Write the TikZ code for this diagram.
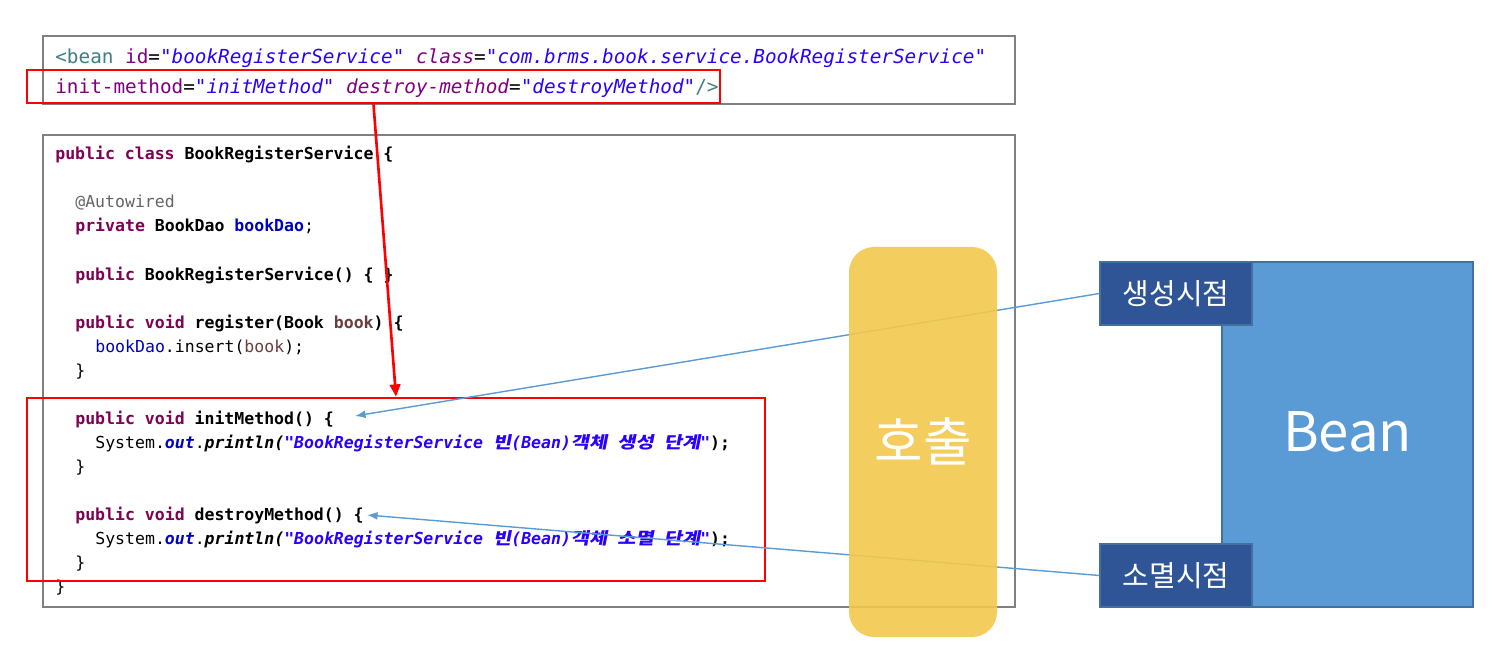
\documentclass[tikz,border=0pt]{standalone}
\usepackage{fontspec}
\usetikzlibrary{arrows.meta,fit}
\newfontfamily\codefont[BoldFont={DejaVu Sans Mono Bold},ItalicFont={DejaVu Sans Mono Oblique},BoldItalicFont={DejaVu Sans Mono Bold Oblique}]{DejaVu Sans Mono}
\newfontfamily\krcode[FakeSlant=0.2,FakeStretch=1.2]{Noto Sans CJK KR}
\newfontfamily\krfont{Noto Sans CJK KR}
\definecolor{keyword}{HTML}{7F0055}
\definecolor{xmltag}{HTML}{3F7F7F}
\definecolor{xmlattr}{HTML}{7F007F}
\definecolor{strblue}{HTML}{2A00FF}
\definecolor{fieldblue}{HTML}{0000C0}
\definecolor{annogray}{HTML}{646464}
\definecolor{parambrown}{HTML}{6A3E3E}
\definecolor{callyellow}{HTML}{F2C94C}
\definecolor{beanblue}{HTML}{5B9BD5}
\definecolor{beanedge}{HTML}{41719C}
\definecolor{pointblue}{HTML}{2F5597}
\def\kw#1{\textcolor{keyword}{\bfseries #1}}
\def\jstr#1{\textcolor{strblue}{\bfseries\itshape #1}}
\def\fld#1{\textcolor{fieldblue}{#1}}
\def\xtag#1{\textcolor{xmltag}{#1}}
\def\xattr#1{\textcolor{xmlattr}{#1}}
\def\xval#1{\textcolor{strblue}{\itshape #1}}
\tikzset{
  codeframe/.style={draw=black!50, line width=0.6pt, inner sep=0pt},
  markbox/.style={draw=red, line width=1.5pt, inner sep=0pt},
  codeline/.style={anchor=base west, inner sep=0pt, font=\codefont\fontsize{9.4}{11}\selectfont},
  xmlline/.style={anchor=base west, inner sep=0pt, font=\codefont\fontsize{11}{13}\selectfont},
  callbar/.style={fill=callyellow, fill opacity=0.9, rounded corners=0.5cm, inner sep=0pt},
  beanbox/.style={fill=beanblue, draw=beanedge, line width=0.8pt, inner sep=0pt},
  pointbox/.style={fill=pointblue, draw=beanedge, line width=0.6pt, inner sep=0pt},
  boxword/.style={anchor=base, inner sep=0pt, text=white, font=\krfont\fontsize{#1}{#1}\selectfont},
  callarrow/.style={red, line width=1.5pt, -{Triangle[length=7pt,width=6pt]}},
  hookline/.style={beanblue, line width=0.8pt, -{Latex[length=6pt,width=4.5pt]}}
}
\begin{document}
\begin{tikzpicture}[x=0.02cm,y=-0.02cm]
  %%%%% START %%%%%
  \useasboundingbox (0,0) rectangle (1503,665);

  % xml bean definition
  \node[codeframe, fit={(43,36) (1015,104)}] (xmlframe) {};
  \node[xmlline] (beanline) at (55,64) {\xtag{<bean} \xattr{id}=\xval{"bookRegisterService"} \xattr{\itshape class}=\xval{"com.brms.book.service.BookRegisterService"}};
  \node[xmlline] (methodattr) at (55,94) {\xattr{init-method}=\xval{"initMethod"} \xattr{\itshape destroy-method}=\xval{"destroyMethod"}\xtag{/>}};

  % java class
  \node[codeframe, fit={(43,135) (1015,607)}] (javaframe) {};
  \node[codeline] (classline) at (55,160) {\kw{public} \kw{class} \textbf{BookRegisterService \{}};
  \node[codeline] (annoline) at (75,208) {\textcolor{annogray}{@Autowired}};
  \node[codeline] (fieldline) at (75,232) {\kw{private} \textbf{BookDao} \fld{\bfseries bookDao};};
  \node[codeline] (ctorline) at (75,280) {\kw{public} \textbf{BookRegisterService() \{ \}}};
  \node[codeline] (regline) at (75,328) {\kw{public} \kw{void} \textbf{register(Book} \textcolor{parambrown}{\bfseries book}\textbf{) \{}};
  \node[codeline] (insertline) at (95,352) {\fld{bookDao}.insert(\textcolor{parambrown}{book});};
  \node[codeline] (regend) at (75,376) {\}};
  \node[codeline] (initline) at (75,424) {\kw{public} \kw{void} \textbf{initMethod() \{}};
  \node[codeline] (initprint) at (95,448) {System.\fld{\bfseries\itshape out}.{\bfseries\itshape println(}\jstr{"BookRegisterService {\krcode 빈}(Bean){\krcode 객체} {\krcode 생성} {\krcode 단계}"}\textbf{);}};
  \node[codeline] (initend) at (75,472) {\}};
  \node[codeline] (destroyline) at (75,520) {\kw{public} \kw{void} \textbf{destroyMethod() \{}};
  \node[codeline] (destroyprint) at (95,544) {System.\fld{\bfseries\itshape out}.{\bfseries\itshape println(}\jstr{"BookRegisterService {\krcode 빈}(Bean){\krcode 객체} {\krcode 소멸} {\krcode 단계}"}\textbf{);}};
  \node[codeline] (destroyend) at (75,568) {\}};
  \node[codeline] (classend) at (55,592) {\}};

  % red marks
  \node[markbox, fit={(27,70) (720,103)}] (xmlmark) {};
  \node[markbox, fit={(27,398) (765,581)}] (methodmark) {};
  \draw[callarrow] (xmlmark.south) -- (methodmark.north);

  % bean and its points
  \node[beanbox, fit={(1222,262) (1473,607)}] (bean) {};
  \node[boxword=31, yshift=-0.35cm] (beanword) at (bean.center) {Bean};
  \node[pointbox, fit={(1100,262) (1252,325)}] (bornlbl) {};
  \node[boxword=16.5, yshift=-0.23cm] (bornword) at (bornlbl.center) {생성시점};
  \node[pointbox, fit={(1100,544) (1252,607)}] (deathlbl) {};
  \node[boxword=16.5, yshift=-0.22cm] (deathword) at (deathlbl.center) {소멸시점};

  \coordinate (inithook) at (355,416);
  \coordinate (destroyhook) at (367,515);
  \draw[hookline] (bornlbl.west) -- (inithook);
  \draw[hookline] (deathlbl.west) -- (destroyhook);

  % call bar
  \node[callbar, fit={(849,247) (997,637)}] (callbar) {};
  \node[boxword=30, yshift=-0.4cm] (callword) at (callbar.center) {호출};
  %%%%% END %%%%%
\end{tikzpicture}
\end{document}
